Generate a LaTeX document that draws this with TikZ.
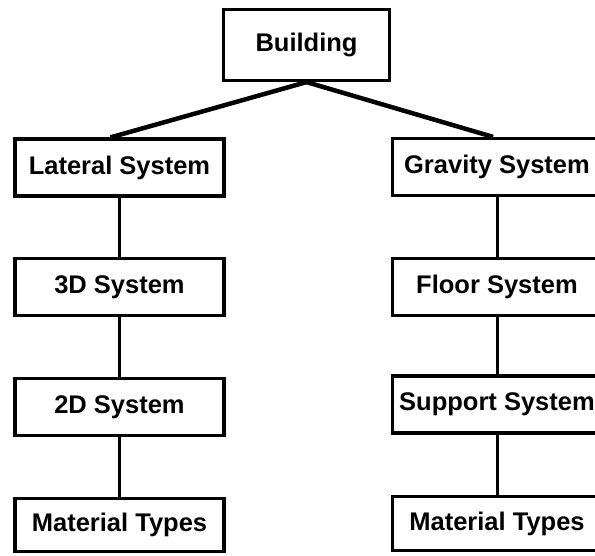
\documentclass[tikz,border=0pt]{standalone}
\usepackage{fontspec}
\setmainfont{Liberation Sans}
\begin{document}
\begin{tikzpicture}[x=1pt, y=-1pt,
    box/.style={draw, line width=3.2pt, minimum width=209pt, minimum height=57pt, inner sep=0pt, font=\bfseries\fontsize{25.5}{30}\selectfont},
    link/.style={line width=3pt},
    branch/.style={line width=4.5pt},
  ]

\useasboundingbox (0,0) rectangle (595,556);

%top
\node[box, minimum width=166pt, minimum height=71pt] (bld) at (306.5,45) {Building};

%lateral side
\node[box] (lat) at (119.5,167.5) {Lateral System};
\node[box] (lat3d) at (119.5,287) {3D System};
\node[box] (lat2d) at (119.5,407) {2D System};
\node[box, minimum height=53pt] (latmat) at (119.5,525) {Material Types};

%gravity side
\node[box] (grav) at (497,167) {Gravity System};
\node[box] (gravfl) at (497,287) {Floor System};
\node[box] (gravsup) at (497,404.5) {Support System};
\node[box, minimum height=54pt] (gravmat) at (497,523.5) {Material Types};

%links
\draw[branch] (bld.south) -- ([xshift=-9pt]lat.north);
\draw[branch] (bld.south) -- ([xshift=-4pt]grav.north);

\draw[link] (lat) -- (lat3d);
\draw[link] (lat3d) -- (lat2d);
\draw[link] (lat2d) -- (latmat);

\draw[link] (grav) -- (gravfl);
\draw[link] (gravfl) -- (gravsup);
\draw[link] (gravsup) -- (gravmat);

\end{tikzpicture}
\end{document}
